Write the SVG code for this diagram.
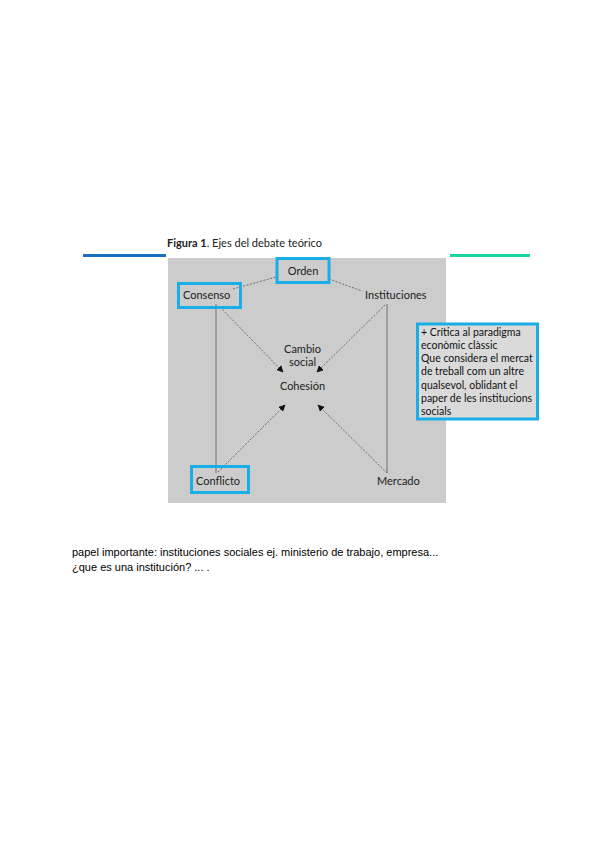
<svg xmlns="http://www.w3.org/2000/svg" width="600" height="848" viewBox="0 0 600 848">
<style>
.lbl{font-family:Lato,"Open Sans",sans-serif;font-size:11px;fill:#222}
.hl{fill:none;stroke:#1aaee6;stroke-width:3}
.dl{stroke:#555;stroke-width:0.8;stroke-dasharray:2,1.5;fill:none}
.sl{stroke:#666;stroke-width:0.9;fill:none}
.note{font-family:Lato,"Open Sans",sans-serif;font-size:10.5px;fill:#111}
.body{font-family:"Liberation Sans",Arial,sans-serif;font-size:11px;fill:#000}
</style>
<defs>
<marker id="ah" viewBox="0 0 10 10" refX="9" refY="5" markerWidth="7" markerHeight="7" orient="auto" markerUnits="userSpaceOnUse">
<path d="M0,0 L10,5 L0,10 z" fill="#111"/>
</marker>
</defs>
<rect width="600" height="848" fill="#fff"/>
<g id="header">
<line x1="83" y1="255.5" x2="166" y2="255.5" stroke="#1a6fc4" stroke-width="3"/>
<line x1="450" y1="255.5" x2="530" y2="255.5" stroke="#19d49e" stroke-width="3"/>
<text x="167" y="247" font-family="Lato,'Open Sans',sans-serif" font-size="11" fill="#222"><tspan font-weight="bold">Figura 1</tspan>. Ejes del debate teórico</text>
</g>
<rect id="panel" x="168" y="258" width="278" height="245" fill="#cccccc"/>
<g id="connectors">
<line class="dl" x1="233" y1="289" x2="276" y2="277"/>
<line class="dl" x1="329" y1="279" x2="362" y2="291"/>
<line class="sl" x1="216" y1="304" x2="216" y2="473"/>
<line class="sl" x1="387" y1="304" x2="387" y2="473"/>
<line class="dl" x1="220" y1="307" x2="283" y2="372" marker-end="url(#ah)"/>
<line class="dl" x1="385" y1="305" x2="317" y2="372" marker-end="url(#ah)"/>
<line class="dl" x1="218" y1="472" x2="285" y2="405" marker-end="url(#ah)"/>
<line class="dl" x1="387" y1="473" x2="318" y2="405" marker-end="url(#ah)"/>
</g>
<g id="orden">
<rect class="hl" x="277" y="258.5" width="52" height="24"/>
<text class="lbl" x="303" y="275" text-anchor="middle">Orden</text>
</g>
<g id="consenso">
<rect class="hl" x="178.5" y="283.5" width="62" height="24"/>
<text class="lbl" x="183" y="299">Consenso</text>
</g>
<g id="instituciones">
<text class="lbl" x="365" y="299">Instituciones</text>
</g>
<g id="cambio">
<text class="lbl" x="302.5" y="353" text-anchor="middle">Cambio</text>
<text class="lbl" x="302.5" y="366" text-anchor="middle">social</text>
</g>
<g id="cohesion">
<text class="lbl" x="302.5" y="390" text-anchor="middle">Cohesión</text>
</g>
<g id="conflicto">
<rect class="hl" x="191.5" y="466.5" width="57" height="26"/>
<text class="lbl" x="196" y="485">Conflicto</text>
</g>
<g id="mercado">
<text class="lbl" x="377" y="485">Mercado</text>
</g>
<g id="note">
<rect x="417.5" y="324" width="120" height="95" fill="#dadada" stroke="#1aaee6" stroke-width="3"/>
<text class="note" x="421" y="336">+ Crítica al paradigma</text>
<text class="note" x="421" y="349">econòmic clàssic</text>
<text class="note" x="421" y="362">Que considera el mercat</text>
<text class="note" x="421" y="375">de treball com un altre</text>
<text class="note" x="421" y="388.5">qualsevol, oblidant el</text>
<text class="note" x="421" y="401.5">paper de les institucions</text>
<text class="note" x="421" y="415">socials</text>
</g>
<g id="body">
<text class="body" x="72" y="556">papel importante: instituciones sociales ej. ministerio de trabajo, empresa...</text>
<text class="body" x="72" y="571">¿que es una institución? ... .</text>
</g>
</svg>
